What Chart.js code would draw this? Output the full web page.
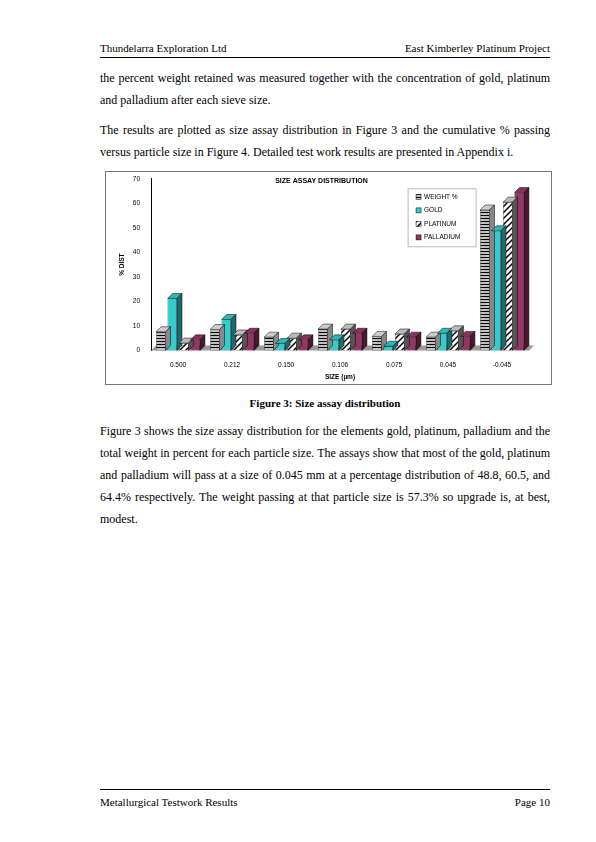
<!DOCTYPE html>
<html lang="en">
<head>
<meta charset="UTF-8">
<title>Size Assay Distribution</title>
<script src="https://cdn.jsdelivr.net/npm/chart.js"></script>
<style>
    body { margin: 0; width: 596px; height: 842px; background: #fff; font-family: "Liberation Serif", "Times New Roman", serif; color: #000; position: relative; }
    .hdr { position: absolute; left: 100px; right: 46px; top: 42px; font-size: 11px; border-bottom: 1px solid #000; padding-bottom: 3px; display: flex; justify-content: space-between; }
    .ftr { position: absolute; left: 100px; right: 46px; top: 789px; font-size: 11px; border-top: 1px solid #000; padding-top: 6px; display: flex; justify-content: space-between; }
    p { position: absolute; left: 100px; width: 450px; margin: 0; font-size: 12px; line-height: 22px; text-align: justify; }
    .chart-box { position: absolute; left: 105px; top: 171px; width: 445px; height: 212px; border: 1px solid #777; }
    .cap { position: absolute; left: 100px; width: 450px; top: 397px; text-align: center; font-weight: bold; font-size: 11px; }
</style>
</head>
<body>
<div class="hdr"><span>Thundelarra Exploration Ltd</span><span>East Kimberley Platinum Project</span></div>
<p style="top:67px">the percent weight retained was measured together with the concentration of gold, platinum and palladium after each sieve size.</p>
<p style="top:119px">The results are plotted as size assay distribution in Figure 3 and the cumulative % passing versus particle size in Figure 4. Detailed test work results are presented in Appendix i.</p>
<div class="chart-box"><canvas id="chart"></canvas></div>
<div class="cap">Figure 3: Size assay distribution</div>
<p style="top:420px">Figure 3 shows the size assay distribution for the elements gold, platinum, palladium and the total weight in percent for each particle size. The assays show that most of the gold, platinum and palladium will pass at a size of 0.045 mm at a percentage distribution of 48.8, 60.5, and 64.4% respectively. The weight passing at that particle size is 57.3% so upgrade is, at best, modest.</p>
<div class="ftr"><span>Metallurgical Testwork Results</span><span>Page 10</span></div>

<script>
    const sizes = ['0.500', '0.212', '0.150', '0.106', '0.075', '0.045', '-0.045'];
    const weight = [7.6, 8.5, 5.4, 8.7, 5.7, 5.4, 57.3];
    const gold = [21.2, 12.6, 2.8, 4.3, 1.7, 7.0, 48.8];
    const platinum = [3.0, 6.3, 5.0, 8.7, 6.7, 8.0, 60.5];
    const palladium = [4.3, 7.0, 4.3, 7.0, 5.4, 5.7, 64.4];

    function pattern(kind) {
        const c = document.createElement('canvas');
        c.width = 6; c.height = 6;
        const g = c.getContext('2d');
        g.fillStyle = '#fff'; g.fillRect(0, 0, 6, 6);
        g.strokeStyle = '#000'; g.lineWidth = 1.5;
        g.beginPath();
        if (kind === 'h') { g.moveTo(0, 1.5); g.lineTo(6, 1.5); g.moveTo(0, 4.5); g.lineTo(6, 4.5); }
        else { g.moveTo(0, 6); g.lineTo(6, 0); g.moveTo(-3, 3); g.lineTo(3, -3); g.moveTo(3, 9); g.lineTo(9, 3); }
        g.stroke();
        return g.createPattern(c, 'repeat');
    }

    const depth = 5;
    const sideColors = ['#888', '#1f6b6b', '#555', '#4a1630'];
    const topColors = ['#ccc', '#2fb5b5', '#bbb', '#8a3060'];

    const bar3d = {
        id: 'bar3d',
        beforeDatasetsDraw(chart) {
            const ctx = chart.ctx;
            const y = chart.scales.y, x = chart.scales.x;
            const base = y.getPixelForValue(0);
            ctx.save();
            ctx.fillStyle = '#999';
            ctx.beginPath();
            ctx.moveTo(x.left, base); ctx.lineTo(x.left + depth, base - depth);
            ctx.lineTo(x.right + depth, base - depth); ctx.lineTo(x.right, base);
            ctx.closePath(); ctx.fill();
            ctx.restore();
        },
        afterDatasetsDraw(chart) {
            const ctx = chart.ctx;
            ctx.save();
            ctx.strokeStyle = '#000'; ctx.lineWidth = 0.5;
            chart.data.datasets.forEach((ds, i) => {
                chart.getDatasetMeta(i).data.forEach(bar => {
                    const l = bar.x - bar.width / 2, r = bar.x + bar.width / 2, t = bar.y, b = bar.base;
                    ctx.fillStyle = topColors[i];
                    ctx.beginPath();
                    ctx.moveTo(l, t); ctx.lineTo(l + depth, t - depth); ctx.lineTo(r + depth, t - depth); ctx.lineTo(r, t);
                    ctx.closePath(); ctx.fill(); ctx.stroke();
                    ctx.fillStyle = sideColors[i];
                    ctx.beginPath();
                    ctx.moveTo(r, t); ctx.lineTo(r + depth, t - depth); ctx.lineTo(r + depth, b - depth); ctx.lineTo(r, b);
                    ctx.closePath(); ctx.fill(); ctx.stroke();
                });
            });
            // legend box, top right of the plot
            const area = chart.chartArea;
            const bx = area.left + area.width * 0.68, by = area.top + 10, bw = 68, bh = 58;
            ctx.fillStyle = '#fff';
            ctx.strokeStyle = '#777';
            ctx.fillRect(bx, by, bw, bh);
            ctx.strokeRect(bx, by, bw, bh);
            ctx.font = '6.5px Arial';
            ctx.textBaseline = 'middle';
            chart.data.datasets.forEach((ds, i) => {
                const ly = by + 8 + i * 13.5;
                ctx.fillStyle = ds.backgroundColor;
                ctx.fillRect(bx + 8, ly - 2.5, 5, 5);
                ctx.strokeStyle = '#000';
                ctx.strokeRect(bx + 8, ly - 2.5, 5, 5);
                ctx.fillStyle = '#000';
                ctx.fillText(ds.label, bx + 16, ly);
            });
            ctx.restore();
        }
    };

    new Chart(document.getElementById('chart'), {
        type: 'bar',
        data: {
            labels: sizes,
            datasets: [
                { label: 'WEIGHT %', data: weight, backgroundColor: pattern('h'), borderColor: '#000', borderWidth: 0.5 },
                { label: 'GOLD', data: gold, backgroundColor: '#33cccc', borderColor: '#000', borderWidth: 0.5 },
                { label: 'PLATINUM', data: platinum, backgroundColor: pattern('d'), borderColor: '#000', borderWidth: 0.5 },
                { label: 'PALLADIUM', data: palladium, backgroundColor: '#993366', borderColor: '#000', borderWidth: 0.5 }
            ]
        },
        options: {
            responsive: true,
            maintainAspectRatio: false,
            animation: false,
            layout: { padding: { top: 4, right: 22, left: 8, bottom: 2 } },
            datasets: { bar: { categoryPercentage: 0.85, barPercentage: 0.82 } },
            scales: {
                x: {
                    grid: { display: false },
                    border: { display: false },
                    ticks: { color: '#000', font: { size: 6.5, family: 'Arial' } },
                    title: { display: true, text: 'SIZE (µm)', color: '#000', font: { size: 6.5, weight: 'bold', family: 'Arial' }, padding: 1 }
                },
                y: {
                    min: 0, max: 70,
                    ticks: { stepSize: 10, color: '#000', font: { size: 6.5, family: 'Arial' } },
                    grid: { display: false, drawTicks: true },
                    border: { color: '#000' },
                    title: { display: true, text: '% DIST', color: '#000', font: { size: 6.5, weight: 'bold', family: 'Arial' } }
                }
            },
            plugins: {
                title: { display: true, text: 'SIZE ASSAY DISTRIBUTION', color: '#000', font: { size: 7, weight: 'bold', family: 'Arial' }, padding: { top: 0, bottom: -6 } },
                legend: { display: false },
                tooltip: { enabled: false }
            }
        },
        plugins: [bar3d]
    });
</script>
</body>
</html>
